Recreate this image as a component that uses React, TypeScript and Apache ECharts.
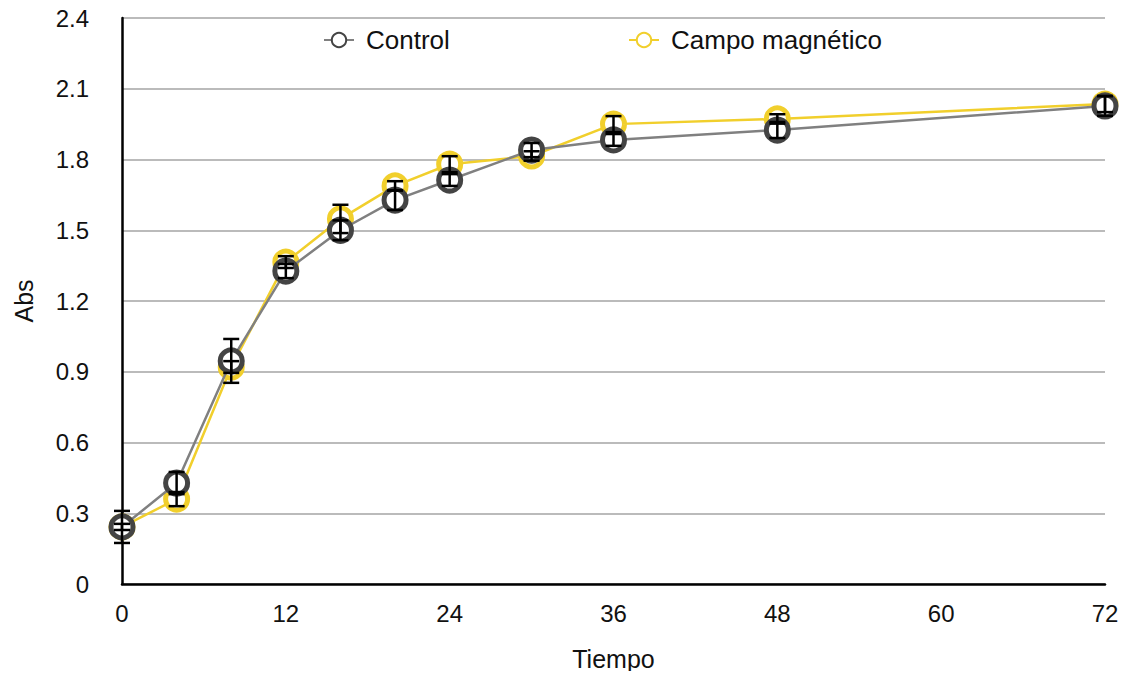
import React, { useEffect, useRef } from "react";
import * as echarts from "echarts";

const times = [0, 4, 8, 12, 16, 20, 24, 30, 36, 48, 72];
const controlValues = [0.242, 0.428, 0.946, 1.327, 1.5, 1.628, 1.713, 1.84, 1.883, 1.925, 2.027];
const controlErrors = [0.068, 0.047, 0.093, 0.03, 0.042, 0.042, 0.025, 0.03, 0.025, 0.034, 0.042];
const campoValues = [0.242, 0.36, 0.92, 1.365, 1.548, 1.688, 1.78, 1.815, 1.95, 1.972, 2.035];
const campoErrors = [0.013, 0.03, 0.025, 0.025, 0.06, 0.02, 0.034, 0.02, 0.034, 0.02, 0.034];
const yTicks = [0, 0.3, 0.6, 0.9, 1.2, 1.5, 1.8, 2.1, 2.4];
const xTicks = [0, 12, 24, 36, 48, 60, 72];

const FONT = "'Liberation Sans', Arial, Helvetica, sans-serif";

function errorSeries(values: number[], errors: number[]) {
  return {
    type: "custom",
    z: 10,
    silent: true,
    data: times.map((t, i) => [t, values[i], errors[i]]),
    encode: { x: 0, y: 1 },
    renderItem: (params: any, api: any) => {
      const x = api.value(0);
      const y = api.value(1);
      const e = api.value(2);
      const hi = api.coord([x, y + e]);
      const lo = api.coord([x, y - e]);
      const cap = 8;
      const style = { stroke: "#000", lineWidth: 2.5, fill: "none" };
      return {
        type: "group",
        children: [
          { type: "line", shape: { x1: hi[0], y1: hi[1], x2: lo[0], y2: lo[1] }, style },
          { type: "line", shape: { x1: hi[0] - cap, y1: hi[1], x2: hi[0] + cap, y2: hi[1] }, style },
          { type: "line", shape: { x1: lo[0] - cap, y1: lo[1], x2: lo[0] + cap, y2: lo[1] }, style },
        ],
      };
    },
  };
}

export default function App() {
  const ref = useRef<HTMLDivElement>(null);
  useEffect(() => {
    if (!ref.current) return;
    const chart = echarts.init(ref.current, undefined, { renderer: "svg" });
    const legendText = { fontSize: 26, color: "#111", fontFamily: FONT, padding: [0, 0, 0, 7] };
    chart.setOption({
      animation: false,
      backgroundColor: "#fff",
      textStyle: { fontFamily: FONT },
      grid: { left: 122, right: 24, top: 18, bottom: 95 },
      legend: [
        {
          data: ["Control"],
          left: 318,
          top: 22,
          itemWidth: 30,
          itemHeight: 18,
          textStyle: legendText,
        },
        {
          data: ["Campo magnético"],
          left: 623,
          top: 22,
          itemWidth: 30,
          itemHeight: 18,
          textStyle: legendText,
        },
      ],
      xAxis: {
        type: "value",
        min: 0,
        max: 72,
        interval: 12,
        name: "Tiempo",
        nameLocation: "middle",
        nameGap: 62,
        nameTextStyle: { fontSize: 25, color: "#111", fontFamily: FONT },
        axisLine: { show: true, onZero: false, lineStyle: { color: "#000", width: 2.5 } },
        axisTick: { show: false },
        splitLine: { show: false },
        axisLabel: {
          fontSize: 24,
          color: "#111",
          margin: 17,
          fontFamily: FONT,
          formatter: (v: number) => (xTicks.includes(v) ? String(v) : ""),
        },
      },
      yAxis: {
        type: "value",
        min: 0,
        max: 2.4,
        interval: 0.3,
        name: "Abs",
        nameLocation: "middle",
        nameGap: 86,
        nameTextStyle: { fontSize: 25, color: "#111", fontFamily: FONT },
        axisLine: { show: true, lineStyle: { color: "#000", width: 2.5 } },
        axisTick: { show: false },
        splitLine: { show: true, lineStyle: { color: "#bbbbbb", width: 2 } },
        axisLabel: {
          fontSize: 24,
          color: "#111",
          margin: 33,
          fontFamily: FONT,
          formatter: (v: number) => {
            const t = yTicks.find((k) => Math.abs(k - v) < 1e-6);
            return t === undefined ? "" : t === 0 ? "0" : t.toFixed(1);
          },
        },
      },
      series: [
        {
          name: "Campo magnético",
          type: "line",
          z: 3,
          data: times.map((t, i) => [t, campoValues[i]]),
          symbol: "circle",
          symbolSize: 22,
          lineStyle: { color: "#f1cf2c", width: 2.5 },
          itemStyle: { color: "#ffffff", borderColor: "#f1cf2c", borderWidth: 5 },
        },
        {
          name: "Control",
          type: "line",
          z: 4,
          data: times.map((t, i) => [t, controlValues[i]]),
          symbol: "circle",
          symbolSize: 22,
          lineStyle: { color: "#808080", width: 2.5 },
          itemStyle: { color: "#ffffff", borderColor: "#444444", borderWidth: 5 },
        },
        errorSeries(campoValues, campoErrors),
        errorSeries(controlValues, controlErrors),
      ],
    });
    return () => chart.dispose();
  }, []);
  return <div ref={ref} style={{ width: 1129, height: 679, margin: -8 }} />;
}
